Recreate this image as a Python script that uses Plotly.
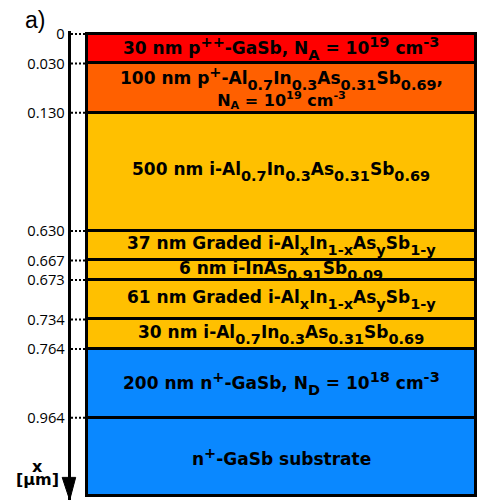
import plotly.graph_objects as go

# ---- data ----
def sub(t):
    return '<sub><sub><span style="font-size:14.5px">' + t + '</span></sub></sub>'

def sup(t):
    return '<sup><span style="font-size:14.5px">' + t + '</span></sup>'

AlInAsSb = "Al" + sub("0.7") + "In" + sub("0.3") + "As" + sub("0.31") + "Sb" + sub("0.69")
graded = "Al" + sub("x") + "In" + sub("1-x") + "As" + sub("y") + "Sb" + sub("1-y")

layer_labels = [
    "30 nm p" + sup("++") + "-GaSb, N" + sub("A") + " = 10" + sup("19") + " cm" + sup("-3"),
    '<span style="font-size:17px">100 nm p' + sup("+") + "-" + AlInAsSb + ",</span><br>"
    '<span style="font-size:16px">N<sub>A</sub> = 10<sup>19</sup> cm<sup>-3</sup></span>',
    "500 nm i-" + AlInAsSb,
    "37 nm Graded i-" + graded,
    "6 nm i-InAs" + sub("0.91") + "Sb" + sub("0.09"),
    "61 nm Graded i-" + graded,
    "30 nm i-" + AlInAsSb,
    "200 nm n" + sup("+") + "-GaSb, N" + sub("D") + " = 10" + sup("18") + " cm" + sup("-3"),
    "n" + sup("+") + "-GaSb substrate",
]
layer_colors = ["#FF0000", "#FF6000", "#FFC000", "#FFC000", "#FFC000",
                "#FFC000", "#FFC000", "#0A88FF", "#0A88FF"]
# schematic (drawn) thickness of each layer, not to scale
display_heights = [30, 50, 120, 30, 20, 40, 30, 70, 80]
depth_tick_labels = ["0", "0.030", "0.130", "0.630", "0.667", "0.673",
                     "0.734", "0.764", "0.964"]

# ---- layout constants ----
W, H = 478, 501
BOX_L, BOX_R = 86.5, 475.5
BAR_X = 281
BAR_W = BOX_R - BOX_L
AXIS_X = 68.7
TOP_PX = 26.5

bounds = [0]
for h in display_heights:
    bounds.append(bounds[-1] + h)
total = bounds[-1]

fig = go.Figure()
for lab, col, h in zip(layer_labels, layer_colors, display_heights):
    fig.add_trace(go.Bar(
        x=[(BOX_L + BOX_R) / 2], y=[h], width=[BAR_W],
        marker=dict(color=col, line=dict(color="black", width=3)),
        hoverinfo="skip", showlegend=False))

# dotted guide ticks
gx, gy = [], []
for b in bounds[:-1]:
    gx += [71, 85, None]
    gy += [b, b, None]
fig.add_trace(go.Scatter(x=gx, y=gy, mode="lines",
                         line=dict(color="black", width=2, dash="2px,2px"),
                         hoverinfo="skip", showlegend=False))

# layer labels
for lab, top, h in zip(layer_labels, bounds[:-1], display_heights):
    size = 16.5 if "<br>" in lab else 17
    fig.add_annotation(x=BAR_X, y=top + h / 2, xref="x", yref="y",
                       text="<b>" + lab + "</b>", showarrow=False,
                       font=dict(family="DejaVu Sans", size=size, color="black"),
                       xanchor="center", yanchor="middle")

pad = 3
y_lo_px = TOP_PX - pad
y_hi_px = TOP_PX + total + pad
fig.update_layout(
    width=W, height=H,
    margin=dict(l=0, r=0, t=0, b=0, pad=0),
    paper_bgcolor="white", plot_bgcolor="rgba(0,0,0,0)",
    barmode="stack", bargap=0,
    xaxis=dict(range=[0, W], domain=[0, 1], visible=False, fixedrange=True),
    yaxis=dict(range=[total + pad, -pad], autorange=False,
               domain=[1 - y_hi_px / H, 1 - y_lo_px / H],
               anchor="free", position=AXIS_X / W,
               showline=True, linewidth=3, linecolor="black",
               tickvals=bounds[:-1], ticktext=depth_tick_labels,
               ticks="", showgrid=False, zeroline=False,
               tickfont=dict(family="Open Sans", size=14.7, color="black"),
               fixedrange=True),
)

# arrow head at bottom of depth axis
def px(x, y):
    return x / W, 1 - y / H
p1 = px(AXIS_X - 6.5, 477)
p2 = px(AXIS_X + 7, 477)
p3 = px(AXIS_X + 1, 500)
fig.add_shape(type="path", xref="paper", yref="paper",
              path=f"M {p1[0]} {p1[1]} L {p2[0]} {p2[1]} L {p3[0]} {p3[1]} Z",
              fillcolor="black", line=dict(color="black", width=1))

fig.add_annotation(x=23 / W, y=1 - 12 / H, xref="paper", yref="paper",
                   text="a)", showarrow=False, xanchor="left", yanchor="middle",
                   font=dict(family="Liberation Sans", size=23, color="black"))
fig.add_annotation(x=37.5 / W, y=1 - 465.5 / H, xref="paper", yref="paper",
                   text="<b>x</b>", showarrow=False, xanchor="center", yanchor="middle",
                   font=dict(family="DejaVu Sans", size=16, color="black"))
fig.add_annotation(x=37.5 / W, y=1 - 479 / H, xref="paper", yref="paper",
                   text="<b>[μm]</b>", showarrow=False, xanchor="center", yanchor="middle",
                   font=dict(family="DejaVu Sans", size=16, color="black"))

fig.write_html("out.html",
               config={"displayModeBar": False},
               post_script="document.documentElement.style.margin='0';"
                           "document.body.style.margin='0';document.body.style.padding='0';")
